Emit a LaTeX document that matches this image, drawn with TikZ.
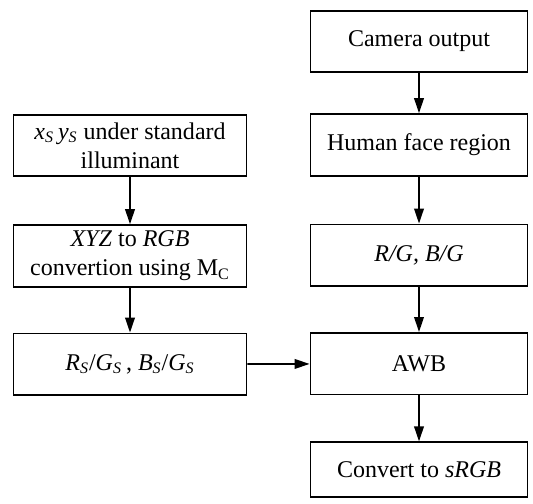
\documentclass[tikz,border=0pt]{standalone}
\usepackage{fontspec}
\setmainfont{Liberation Serif}
\usetikzlibrary{arrows.meta, positioning}

\newcommand{\itsub}[2]{\textit{#1}\textsubscript{\textit{#2}}}

\begin{document}
\begin{tikzpicture}[
    x=0.5pt, y=-0.5pt,
    node distance=23pt,
    every node/.style={font=\fontsize{12}{14.5}\selectfont},
    rbox/.style={draw, line width=0.9pt, minimum width=108.5pt, minimum height=30.8pt, align=center, inner sep=2pt},
    lbox/.style={rbox, minimum width=116.5pt},
    arr/.style={-{Triangle[length=7.5pt, width=4.8pt]}, line width=0.9pt}
  ]
  \useasboundingbox (0,0) rectangle (533,503);

  % --- Right column: camera pipeline ---
  \node[rbox] (camera) at (419,41.5) {Camera output};
  \node[rbox, below=20pt of camera] (face) {Human face region};
  \node[rbox, below=23.5pt of face] (ratio) {\textit{R/G, B/G}};
  \node[rbox, below=22.5pt of ratio] (awb) {AWB};
  \node[rbox, below=23pt of awb, minimum height=27.5pt] (srgb) {Convert to \textit{sRGB}};

  % --- Left column: standard illuminant ---
  \node[lbox] (illum) at (130,145.5) {\itsub{x}{S}\,\itsub{y}{S} under standard\\illuminant};
  \node[lbox, below=23.5pt of illum] (xyz) {\textit{XYZ} to \textit{RGB}\\convertion using M\textsubscript{C}};
  \node[lbox, below=22.5pt of xyz] (stdratio) {\itsub{R}{S}/\itsub{G}{S}\,, \itsub{B}{S}/\itsub{G}{S}};

  % --- Arrows ---
  \draw[arr] (camera) -- (face);
  \draw[arr] (face) -- (ratio);
  \draw[arr] (ratio) -- (awb);
  \draw[arr] (awb) -- (srgb);
  \draw[arr] (illum) -- (xyz);
  \draw[arr] (xyz) -- (stdratio);
  \draw[arr] (stdratio) -- (awb);

\end{tikzpicture}
\end{document}
